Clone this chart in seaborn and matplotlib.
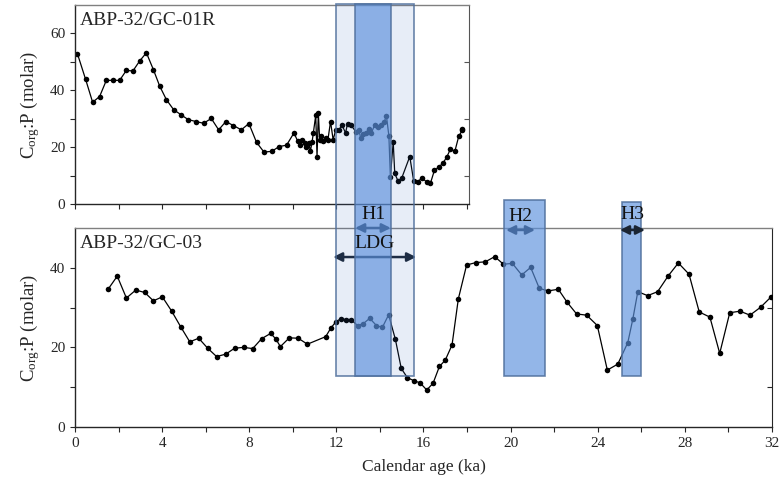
import pandas as pd
import matplotlib.pyplot as plt
from matplotlib.patches import Rectangle
import seaborn as sns

# Core ABP-32/GC-01R: calendar age (ka) and Corg:P (molar)
gc01_age = [0.11, 0.49, 0.81, 1.13, 1.44, 1.74, 2.05, 2.36, 2.66, 2.97, 3.28, 3.60, 3.89,
            4.20, 4.53, 4.87, 5.20, 5.56, 5.91, 6.26, 6.60, 6.93, 7.28, 7.64, 7.99, 8.34,
            8.68, 9.03, 9.38, 9.72, 10.06, 10.24, 10.35, 10.44, 10.55, 10.63, 10.75, 10.81,
            10.89, 10.95, 11.06, 11.12, 11.18, 11.24, 11.32, 11.39, 11.52, 11.62, 11.74,
            11.86, 11.98, 12.14, 12.26, 12.43, 12.52, 12.66, 12.90, 13.04, 13.13, 13.24,
            13.36, 13.50, 13.62, 13.77, 13.93, 14.04, 14.19, 14.31, 14.42, 14.49, 14.62,
            14.69, 14.84, 15.01, 15.38, 15.56, 15.76, 15.95, 16.15, 16.33, 16.51, 16.71,
            16.91, 17.09, 17.25, 17.45, 17.63, 17.79, 17.80]
gc01_cp = [52.9, 43.8, 35.8, 37.8, 43.5, 43.5, 43.5, 47.0, 46.8, 50.3, 53.2, 47.3, 41.5,
           36.7, 33.2, 31.4, 29.7, 29.0, 28.4, 30.1, 26.1, 29.0, 27.6, 26.1, 28.3, 21.7,
           18.3, 18.5, 20.2, 20.7, 25.0, 22.0, 20.8, 22.6, 21.4, 20.2, 21.4, 18.5,
           21.7, 25.0, 31.2, 16.7, 32.0, 22.6, 23.8, 22.0, 23.2, 22.6, 29.0,
           22.6, 26.1, 26.1, 27.9, 25.0, 28.2, 27.9, 25.5, 25.9, 23.2, 24.7,
           25.0, 26.4, 25.0, 27.9, 27.1, 27.9, 28.7, 30.9, 24.0, 9.6, 21.8,
           10.8, 8.1, 9.1, 16.7, 8.1, 7.9, 9.3, 7.7, 7.3, 11.8, 13.0,
           14.4, 16.7, 19.3, 18.5, 23.8, 25.9, 26.4]

# Core ABP-32/GC-03
gc03_age = [1.53, 1.94, 2.36, 2.79, 3.20, 3.60, 4.01, 4.44, 4.85, 5.27, 5.68, 6.09, 6.50,
            6.92, 7.33, 7.74, 8.16, 8.57, 8.98, 9.21, 9.43, 9.84, 10.25, 10.67, 11.51,
            11.74, 11.97, 12.20, 12.43, 12.66, 12.98, 13.24, 13.53, 13.84, 14.11, 14.40,
            14.71, 14.98, 15.26, 15.57, 15.84, 16.15, 16.44, 16.73, 17.00, 17.31, 17.60,
            17.98, 18.40, 18.84, 19.27, 19.67, 20.08, 20.51, 20.92, 21.32, 21.73, 22.19,
            22.60, 23.03, 23.49, 23.98, 24.44, 24.92, 25.38, 25.61, 25.84, 26.29, 26.75,
            27.24, 27.70, 28.19, 28.66, 29.15, 29.60, 30.06, 30.53, 30.99, 31.48, 31.96]
gc03_cp = [34.7, 37.9, 32.4, 34.4, 33.8, 31.7, 32.7, 29.1, 25.2, 21.4, 22.3, 19.8, 17.7,
           18.3, 19.8, 20.0, 19.7, 22.2, 23.5, 22.2, 20.2, 22.4, 22.3, 20.8, 22.7,
           24.8, 26.4, 27.2, 27.0, 27.0, 25.5, 26.0, 27.3, 25.5, 25.0, 28.2,
           22.0, 14.7, 12.4, 11.6, 11.1, 9.3, 11.0, 15.2, 16.8, 20.6, 32.2,
           40.7, 41.3, 41.5, 42.8, 40.9, 41.1, 38.2, 40.1, 34.8, 34.2, 34.6,
           31.3, 28.4, 28.1, 25.5, 14.3, 15.8, 21.2, 27.1, 34.0, 33.0, 34.0,
           38.0, 41.2, 38.4, 28.9, 27.6, 18.5, 28.7, 29.1, 28.1, 30.1, 32.7]

# climate events (ka)
event_names = ['LDG', 'H1', 'H2', 'H3']
event_start = [12.0, 12.85, 19.7, 25.1]
event_end = [15.55, 14.5, 21.6, 26.0]

df01 = pd.DataFrame({'age': gc01_age, 'cp': gc01_cp})
df03 = pd.DataFrame({'age': gc03_age, 'cp': gc03_cp})

sns.set_style('ticks')
plt.rcParams['font.family'] = ['Liberation Serif', 'DejaVu Serif']
plt.rcParams['mathtext.fontset'] = 'custom'
plt.rcParams['mathtext.rm'] = 'Liberation Serif'
plt.rcParams['mathtext.it'] = 'Liberation Serif:italic'

fig = plt.figure(figsize=(7.82, 4.86), dpi=100)
ax1 = fig.add_axes([0.0959, 0.5802, 0.5038, 0.4095])
ax2 = fig.add_axes([0.0959, 0.1214, 0.8913, 0.4095])

line_kw = dict(color='black', marker='o', markersize=4, markeredgewidth=0,
               linewidth=0.9, estimator=None, legend=False)
sns.lineplot(data=df01, x='age', y='cp', ax=ax1, **line_kw)
sns.lineplot(data=df03, x='age', y='cp', ax=ax2, **line_kw)

ylab = r'C$_{\rm org}$:P (molar)'

# top panel
ax1.set_xlim(0, 18.1)
ax1.set_ylim(0, 70)
ax1.set_xticks(range(0, 19, 2))
ax1.set_xticklabels([])
ax1.set_yticks([0, 20, 40, 60])
ax1.set_yticks([10, 30, 50], minor=True)
ax1.set_xlabel('')
ax1.set_ylabel(ylab, fontsize=13.5)
ax1.yaxis.set_label_coords(-0.083, 0.5)
ax1.spines['top'].set_color('#808080')
ax1.spines['right'].set_visible(False)
sec1 = ax1.secondary_yaxis('right')
sec1.set_yticks([10, 30, 50])
sec1.tick_params(direction='in', length=3.5, labelright=False, color='#555555')
sec1.spines['right'].set_color('#555555')
ax1.text(0.012, 0.965, 'ABP-32/GC-01R', transform=ax1.transAxes, fontsize=14,
         ha='left', va='top')

# bottom panel
ax2.set_xlim(0, 32)
ax2.set_ylim(0, 50)
ax2.set_xticks(range(0, 33, 4))
ax2.set_xticks(range(2, 33, 4), minor=True)
ax2.set_yticks([0, 20, 40])
ax2.set_yticks([10, 30], minor=True)
ax2.set_xlabel('Calendar age (ka)', fontsize=12.5, labelpad=7)
ax2.set_ylabel(ylab, fontsize=13.5)
ax2.yaxis.set_label_coords(-0.047, 0.5)
ax2.spines['top'].set_color('#808080')
ax2.spines['right'].set_visible(False)
sec2 = ax2.secondary_yaxis('right')
sec2.set_yticks([10, 30])
sec2.tick_params(direction='in', length=3.5, labelright=False)
ax2.text(0.007, 0.965, 'ABP-32/GC-03', transform=ax2.transAxes, fontsize=14,
         ha='left', va='top')

for ax in (ax1, ax2):
    ax.tick_params(which='both', direction='out', length=3.5, width=0.8, labelsize=11,
                   top=False, right=False)
    for s in ('left', 'bottom', 'top'):
        ax.spines[s].set_linewidth(1)

# event boxes span both panels
box_top = {'LDG': 106.3, 'H1': 106.3, 'H2': 57.0, 'H3': 56.5}
box_face = {'LDG': ('#3b6fc4', 0.12), 'H1': ('#5b90dc', 0.66),
            'H2': ('#5b90dc', 0.66), 'H3': ('#5b90dc', 0.66)}
for name, x0, x1 in zip(event_names, event_start, event_end):
    fc, a = box_face[name]
    ax2.add_patch(Rectangle((x0, 12.8), x1 - x0, box_top[name] - 12.8,
                            facecolor=fc, alpha=a, edgecolor='none',
                            clip_on=False, zorder=5))
    ax2.add_patch(Rectangle((x0, 12.8), x1 - x0, box_top[name] - 12.8,
                            facecolor='none', edgecolor='#4f6f9c', linewidth=1.2,
                            alpha=0.85, clip_on=False, zorder=5))

# event arrows and labels
arrow_y = {'LDG': 42.7, 'H1': 50.0, 'H2': 49.5, 'H3': 49.5}
text_y = {'LDG': 46.0, 'H1': 53.3, 'H2': 52.9, 'H3': 53.3}
arrow_x = {'LDG': (11.85, 15.66), 'H1': (12.86, 14.5), 'H2': (19.79, 21.12),
           'H3': (25.02, 26.17)}
for name in event_names:
    xa, xb = arrow_x[name]
    z = 6 if name == 'H3' else 4
    ax2.annotate('', xy=(xb, arrow_y[name]), xytext=(xa, arrow_y[name]),
                 arrowprops=dict(arrowstyle='<|-|>', color='#1b2533', lw=1.8,
                                 mutation_scale=13, shrinkA=0, shrinkB=0),
                 annotation_clip=False, zorder=z)
    ax2.text((xa + xb) / 2, text_y[name], name, fontsize=14, ha='center',
             va='center', zorder=7, color='#111111')

fig.savefig('out.png', dpi=100)
